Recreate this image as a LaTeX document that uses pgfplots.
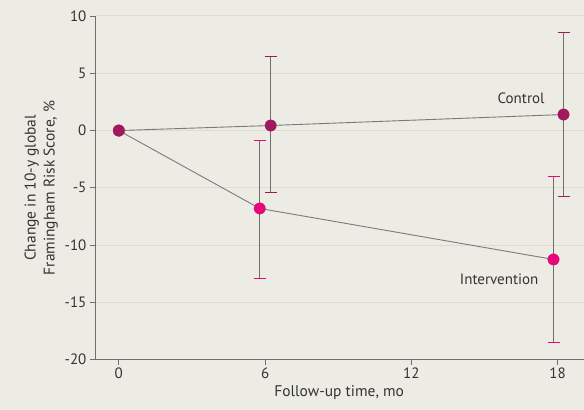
\documentclass[border=0pt]{standalone}
\usepackage{fontspec}
\setmainfont{PT Sans}
\usepackage{pgfplots}
\pgfplotsset{compat=1.18}
\definecolor{bg}{HTML}{ECEBE4}
\definecolor{gridc}{HTML}{DCDBD4}
\definecolor{ctrl}{HTML}{A0195F}
\definecolor{intv}{HTML}{E6087A}
\definecolor{txt}{HTML}{333333}
\definecolor{axl}{HTML}{6E6E6E}
\definecolor{lin}{HTML}{7A7A7A}
\begin{document}
\begin{tikzpicture}
\fill[bg] (-95bp,-50bp) rectangle (489bp,360bp);
\begin{axis}[at={(0,0)}, anchor=south west, scale only axis,
  width=489bp, height=344bp,
  xmin=-0.98, xmax=19.06, ymin=-20, ymax=10,
  axis lines*=left,
  axis line style={axl, line width=0.8bp},
  xtick={0,6,12,18}, xticklabels={0,6,12,18},
  ytick={-20,-15,-10,-5,0,5,10}, yticklabels={-20,-15,-10,-5,0,5,10},
  tick align=outside, major tick length=5bp,
  tick style={axl, line width=0.8bp},
  ymajorgrids, grid style={gridc, line width=1bp},
  tick label style={font=\fontsize{15bp}{17bp}\selectfont, text=txt},
  label style={font=\fontsize{15.5bp}{19bp}\selectfont, text=txt},
  xlabel={Follow-up time, mo},
  ylabel={Change in 10-y global\\Framingham Risk Score, \%},
  ylabel style={align=center},
  clip=false,
]
% error bars
\addplot[only marks, mark=none, error bars/.cd, y dir=both, y explicit,
  error bar style={draw=axl, line width=0.8bp},
  error mark options={rotate=90, draw=intv, line width=1.5bp, mark size=6bp}]
  coordinates {
  (5.78,-6.8) += (0,5.93) -= (0,6.1)
  (17.83,-11.25) += (0,7.25) -= (0,7.25)
  };
\addplot[only marks, mark=none, error bars/.cd, y dir=both, y explicit,
  error bar style={draw=axl, line width=0.8bp},
  error mark options={rotate=90, draw=ctrl, line width=1.5bp, mark size=6bp}]
  coordinates {
  (6.23,0.44) += (0,6.01) -= (0,5.84)
  (18.24,1.4) += (0,7.15) -= (0,7.15)
  };
% lines with markers
\addplot[lin, line width=0.9bp, mark=*, mark size=5.8bp,
  mark options={fill=intv, draw=intv, line width=0.1bp}]
  coordinates {(0,0) (5.78,-6.8) (17.83,-11.25)};
\addplot[lin, line width=0.9bp, mark=*, mark size=5.8bp,
  mark options={fill=ctrl, draw=ctrl, line width=0.1bp}]
  coordinates {(0,0) (6.23,0.44) (18.24,1.4)};
\node[font=\fontsize{15bp}{17bp}\selectfont, text=txt] at (axis cs:16.5,2.8) {Control};
\node[font=\fontsize{15bp}{17bp}\selectfont, text=txt] at (axis cs:15.6,-13.0) {Intervention};
\end{axis}
\end{tikzpicture}
\end{document}
